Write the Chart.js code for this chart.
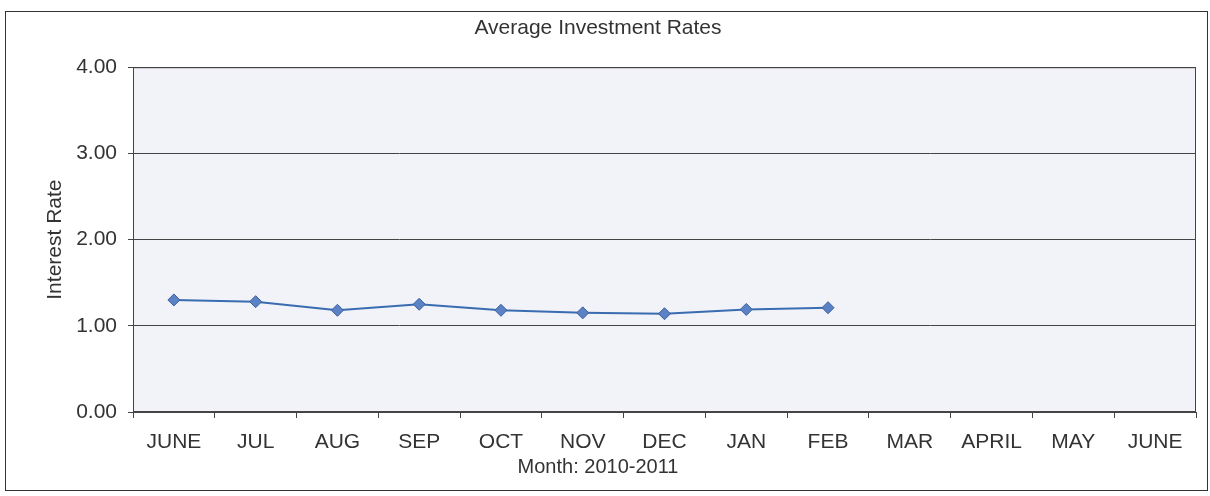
<!DOCTYPE html>
<html>
<head>
<meta charset="utf-8">
<script src="https://cdn.jsdelivr.net/npm/chart.js@4/dist/chart.umd.min.js"></script>
<style>
  html, body { margin: 0; padding: 0; background: #fff; }
  #wrap { position: relative; width: 1210px; height: 496px; }
  #frame { position: absolute; left: 5px; top: 11px; width: 1201px; height: 478px; border: 1px solid #333; pointer-events: none; }
  canvas { position: absolute; left: 0; top: 0; }
</style>
</head>
<body>
<div id="wrap">
  <canvas id="rateChart" width="1210" height="496"></canvas>
  <div id="frame"></div>
</div>
<script>
const months = ['JUNE', 'JUL', 'AUG', 'SEP', 'OCT', 'NOV', 'DEC', 'JAN', 'FEB', 'MAR', 'APRIL', 'MAY', 'JUNE'];
const rates = [1.30, 1.28, 1.18, 1.25, 1.18, 1.15, 1.14, 1.19, 1.21];
const rateMin = 0;
const rateMax = 4;
const rateStep = 1;

const textColor = '#333';
const lineColor = '#444';

// plot area background and frame
const plotBox = {
  id: 'plotBox',
  beforeDraw(chart) {
    const { ctx, chartArea: a } = chart;
    ctx.save();
    ctx.fillStyle = '#f2f2f9';
    ctx.fillRect(a.left, a.top, a.right - a.left, a.bottom - a.top);
    ctx.restore();
  },
  afterDraw(chart) {
    const { ctx, chartArea: a } = chart;
    ctx.save();
    ctx.strokeStyle = lineColor;
    ctx.lineWidth = 1;
    ctx.strokeRect(a.left + 0.5, a.top + 0.5, a.right - a.left - 1, a.bottom - a.top - 1);
    ctx.restore();
  }
};

const ctx = document.getElementById('rateChart').getContext('2d');

new Chart(ctx, {
  type: 'line',
  data: {
    labels: months,
    datasets: [{
      label: 'Interest Rate',
      data: rates,
      borderColor: '#3a6cb0',
      borderWidth: 2,
      backgroundColor: '#5b82c4',
      pointStyle: 'rectRot',
      pointRadius: 6,
      pointBackgroundColor: '#5b82c4',
      pointBorderColor: '#3d5f9e',
      pointBorderWidth: 1,
      tension: 0,
      fill: false
    }]
  },
  plugins: [plotBox],
  options: {
    responsive: false,
    animation: false,
    layout: { padding: { left: 0, right: 14, top: 0, bottom: 0 } },
    plugins: {
      legend: { display: false },
      tooltip: { enabled: false },
      title: {
        display: true,
        text: 'Average Investment Rates',
        color: textColor,
        font: { family: 'Liberation Sans', size: 21, weight: 'normal' },
        padding: { top: 16, bottom: 26 }
      },
      subtitle: {
        display: true,
        position: 'bottom',
        text: 'Month: 2010-2011',
        color: textColor,
        font: { family: 'Liberation Sans', size: 20, weight: 'normal' },
        padding: { top: 0, bottom: 17 }
      }
    },
    scales: {
      x: {
        offset: true,
        grid: { display: true, drawOnChartArea: false, offset: true, tickLength: 6, color: lineColor },
        border: { display: true, color: lineColor },
        ticks: {
          color: textColor,
          padding: 12,
          maxRotation: 0,
          autoSkip: false,
          font: { family: 'Liberation Sans', size: 21 }
        },
        afterFit(scale) { scale.height = 43; }
      },
      y: {
        min: rateMin,
        max: rateMax,
        grid: { color: lineColor, tickLength: 5 },
        border: { display: true, color: lineColor },
        ticks: {
          stepSize: rateStep,
          color: textColor,
          padding: 11,
          font: { family: 'Liberation Sans', size: 21 },
          callback: v => v.toFixed(2)
        },
        title: {
          display: true,
          text: 'Interest Rate',
          color: textColor,
          font: { family: 'Liberation Sans', size: 21 },
          padding: { top: 43, bottom: 0 }
        },
        afterFit(scale) { scale.width = 133; }
      }
    }
  }
});
</script>
</body>
</html>
